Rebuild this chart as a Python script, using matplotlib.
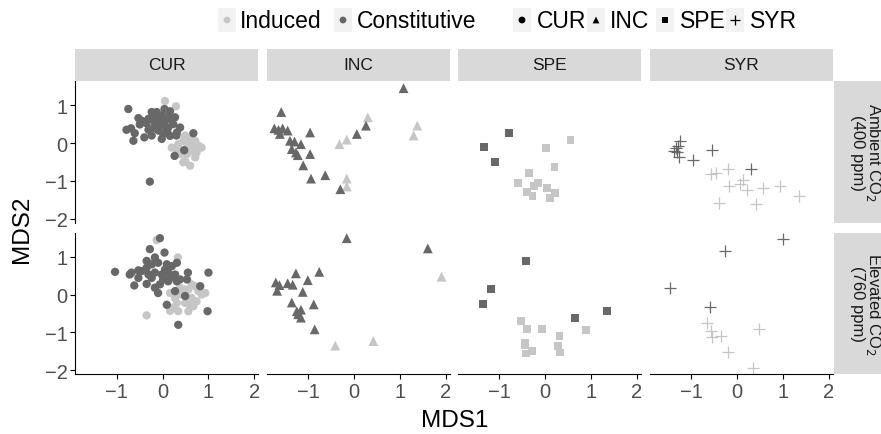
import matplotlib.pyplot as plt
from matplotlib.patches import Rectangle

plt.rcParams['font.family'] = ['Liberation Sans', 'DejaVu Sans']

# ---------------- data (MDS scores) ----------------
species = ['CUR', 'INC', 'SPE', 'SYR']
co2_labels = ['Ambient CO$_2$\n(400 ppm)', 'Elevated CO$_2$\n(760 ppm)']
x_ticks = [-1, 0, 1, 2]
y_ticks = [-2, -1, 0, 1]

# CUR, ambient
cur_amb_con_x = [-0.75, -0.53, -0.46, -0.50, -0.79, -0.69, -0.61, -0.64, -0.31, -0.24, -0.02, -0.28,
                 -0.24, -0.13, 0.04, 0.16, -0.17, -0.06, 0.05, 0.12, 0.23, 0.31, 0.38, -0.09, 0.01,
                 0.16, 0.67, 0.47, 0.26, -0.17, -0.02, 0.12, 0.27, -0.31, -0.35, -0.10, 0.08, 0.20,
                 0.30, -0.20, 0.00, 0.10, -0.40]
cur_amb_con_y = [0.90, 0.66, 0.59, 0.49, 0.35, 0.39, 0.26, 0.06, 0.35, 0.20, 0.11, -1.02,
                 0.82, 0.82, 0.90, 0.84, 0.55, 0.46, 0.59, 0.41, 0.50, 0.28, 0.41, 0.33, 0.24,
                 0.19, 0.26, -0.19, -0.34, 0.68, 0.73, 0.70, 0.68, 0.64, 0.52, 0.62, 0.40, 0.60,
                 0.20, 0.40, 0.50, 0.30, 0.15]
cur_amb_ind_x = [0.05, 0.29, 0.49, 0.60, 0.71, 0.85, 0.20, 0.34, 0.42, 0.53, 0.63, 0.74, 0.49, 0.60,
                 0.45, 0.38, 0.78, 0.56, 0.67, 0.31, 0.45, 0.53, 0.71]
cur_amb_ind_y = [1.11, 0.97, 0.20, 0.11, 0.06, -0.12, -0.12, -0.03, -0.20, -0.29, -0.20, -0.25, -0.47,
                 -0.60, -0.51, -0.29, -0.07, -0.03, -0.07, -0.16, 0.06, -0.12, -0.38]

# CUR, elevated
cur_ele_con_x = [-0.06, -0.28, 0.04, -0.35, -0.17, -1.04, -0.72, -0.68, -0.53, -0.62, -0.46, -0.35,
                 -0.24, -0.10, 0.09, 0.20, -0.31, -0.17, -0.02, 0.12, 0.27, 0.31, -0.35, -0.17,
                 -0.06, 0.12, 0.31, -0.10, 0.27, 0.55, 0.53, 0.82, 1.00, 0.49, 0.09, 0.98, 0.34,
                 0.16, 0.38, -0.53, -0.24, 0.01, 0.05]
cur_ele_con_y = [1.49, 1.20, 1.11, 0.89, 0.98, 0.60, 0.53, 0.58, 0.64, 0.24, 0.62, 0.71,
                 0.80, 0.84, 0.80, 0.75, 0.53, 0.58, 0.53, 0.58, 0.53, 0.84, 0.28, 0.18,
                 0.27, 0.35, 0.35, 0.04, 0.09, 0.58, 0.40, 0.22, 0.58, -0.04, -0.27, -0.44, -0.80,
                 0.44, 0.40, 0.44, 0.44, 0.40, 0.66]
cur_ele_ind_x = [-0.13, 0.33, -0.35, 0.16, 0.27, 0.42, 0.56, 0.71, 0.63, 0.49, 0.74, 0.85, 0.93,
                 0.67, 0.56, 0.34, 0.16, 0.78, 0.38, 0.60, 0.31, 0.23, 0.63, 0.49]
cur_ele_ind_y = [1.44, 0.98, -0.55, 0.04, -0.09, 0.00, 0.13, 0.22, -0.09, -0.22, -0.18, 0.00, 0.04,
                 -0.31, -0.44, -0.44, -0.43, 0.09, 0.18, -0.27, -0.22, -0.35, 0.27, 0.13]

# INC
inc_amb_con_x = [1.08, -1.59, -1.74, -1.65, -1.56, -1.45, -1.62, -0.96, -1.40, -1.30, -1.16, -1.36,
                 -1.27, -1.23, -0.96, -1.11, -0.94, -0.63, -0.30, 0.06, 0.26]
inc_amb_con_y = [1.45, 0.82, 0.39, 0.35, 0.39, 0.33, 0.24, 0.28, 0.06, 0.04, -0.03, -0.16,
                 -0.25, -0.32, -0.29, -0.59, -0.94, -0.85, -1.22, 0.24, 0.46]
inc_amb_ind_x = [0.30, -0.16, -0.32, -0.16, -0.16, 1.38, 1.30]
inc_amb_ind_y = [0.68, 0.09, -0.03, -0.94, -1.15, 0.46, 0.20]
inc_ele_con_x = [-0.16, 1.61, -0.76, -1.27, -1.01, -1.71, -1.63, -1.68, -1.45, -1.34, -1.12, -1.36,
                 -0.88, -1.25, -1.16, -1.16, -1.22, -0.86]
inc_ele_con_y = [1.49, 1.22, 0.60, 0.56, 0.38, 0.32, 0.25, 0.10, 0.30, 0.26, 0.07, -0.21,
                 -0.26, -0.44, -0.40, -0.61, -0.52, -0.92]
inc_ele_ind_x = [1.91, -0.41, 0.42]
inc_ele_ind_y = [0.47, -1.35, -1.23]

# SPE
spe_amb_con_x = [-0.79, -1.33, -1.09]
spe_amb_con_y = [0.27, -0.11, -0.50]
spe_amb_ind_x = [0.55, 0.01, 0.20, -0.35, -0.59, -0.24, -0.15, -0.39, -0.28, 0.04, 0.22, 0.10]
spe_amb_ind_y = [0.09, -0.13, -0.63, -0.80, -1.06, -1.13, -1.05, -1.29, -1.40, -1.19, -1.33, -1.45]
spe_ele_con_x = [-0.42, -1.19, -1.36, 0.65, 1.35]
spe_ele_con_y = [0.89, 0.14, -0.26, -0.63, -0.43]
spe_ele_ind_x = [-0.53, -0.39, -0.07, 0.31, 0.88, -0.44, 0.27, -0.29, -0.42, 0.33, -0.45]
spe_ele_ind_y = [-0.70, -0.90, -0.92, -1.10, -0.94, -1.28, -1.35, -1.50, -1.56, -1.53, -1.33]

# SYR
syr_amb_con_x = [-1.25, -1.28, -1.37, -1.32, -1.34, -1.27, -0.97, -0.55, 0.31]
syr_amb_con_y = [0.06, -0.09, -0.20, -0.24, -0.12, -0.38, -0.44, -0.18, -0.69]
syr_amb_ind_x = [-0.57, -0.47, -0.20, -0.18, 0.07, 0.12, 0.21, 0.56, 0.94, 1.36, -0.39, 0.42]
syr_amb_ind_y = [-0.82, -0.78, -0.69, -1.13, -1.09, -0.98, -1.24, -1.20, -1.13, -1.40, -1.58, -1.62]
syr_ele_con_x = [1.00, -0.26, -1.46, -0.60]
syr_ele_con_y = [1.47, 1.16, 0.17, -0.33]
syr_ele_ind_x = [-0.66, -0.57, -0.55, -0.35, 0.47, -0.20, 0.34]
syr_ele_ind_y = [-0.74, -0.97, -1.12, -1.10, -0.92, -1.53, -1.94]

# table: (row, species) -> [(induced x, y), (constitutive x, y)]
table = {
    (0, 'CUR'): [(cur_amb_ind_x, cur_amb_ind_y), (cur_amb_con_x, cur_amb_con_y)],
    (1, 'CUR'): [(cur_ele_ind_x, cur_ele_ind_y), (cur_ele_con_x, cur_ele_con_y)],
    (0, 'INC'): [(inc_amb_ind_x, inc_amb_ind_y), (inc_amb_con_x, inc_amb_con_y)],
    (1, 'INC'): [(inc_ele_ind_x, inc_ele_ind_y), (inc_ele_con_x, inc_ele_con_y)],
    (0, 'SPE'): [(spe_amb_ind_x, spe_amb_ind_y), (spe_amb_con_x, spe_amb_con_y)],
    (1, 'SPE'): [(spe_ele_ind_x, spe_ele_ind_y), (spe_ele_con_x, spe_ele_con_y)],
    (0, 'SYR'): [(syr_amb_ind_x, syr_amb_ind_y), (syr_amb_con_x, syr_amb_con_y)],
    (1, 'SYR'): [(syr_ele_ind_x, syr_ele_ind_y), (syr_ele_con_x, syr_ele_con_y)],
}

# ---------------- style ----------------
W, H = 881, 435
light = '#C6C6C6'
dark = '#686868'
strip_bg = '#D9D9D9'
tick_col = '#4D4D4D'
markers = {'CUR': ('o', 36), 'INC': ('^', 50), 'SPE': ('s', 32), 'SYR': ('+', 75)}

col_left = [75.2, 266.6, 457.8, 649.6]
col_w = 183.2
row_top = [82, 233.5]
row_h = 141.5


def box(left, top, width, height):
    return [left / W, 1 - (top + height) / H, width / W, height / H]


fig = plt.figure(figsize=(W / 100, H / 100), dpi=100)

for r in range(2):
    for c, sp in enumerate(species):
        ax = fig.add_axes(box(col_left[c], row_top[r], col_w, row_h))
        mk, sz = markers[sp]
        for k, (xs, ys) in enumerate(table[(r, sp)]):
            colr = light if k == 0 else dark
            if mk == '+':
                ax.scatter(xs, ys, marker=mk, s=sz, color=colr, linewidths=0.9, zorder=2 + k)
            else:
                ax.scatter(xs, ys, marker=mk, s=sz, color=colr, edgecolors='none', zorder=2 + k)
        ax.set_xlim(-1.91, 2.09)
        ax.set_ylim(-2.1, 1.64)
        ax.set_xticks(x_ticks)
        ax.set_yticks(y_ticks)
        for s in ['top', 'right']:
            ax.spines[s].set_visible(False)
        ax.spines['left'].set_visible(c == 0)
        ax.spines['bottom'].set_visible(r == 1)
        ax.tick_params(axis='x', bottom=(r == 1), labelbottom=(r == 1), labelsize=14.5,
                       labelcolor=tick_col, length=3.5, width=0.8, pad=2)
        ax.tick_params(axis='y', left=(c == 0), labelleft=(c == 0), labelsize=14.5,
                       labelcolor=tick_col, length=3.5, width=0.8, pad=2)
        ax.set_xticklabels([str(t).replace('-', '\u2212') for t in x_ticks])
        ax.set_yticklabels([str(t).replace('-', '\u2212') for t in y_ticks])
        ax.patch.set_alpha(0)

        # top strips
        if r == 0:
            sax = fig.add_axes(box(col_left[c], 50, col_w, 32))
            sax.add_patch(Rectangle((0, 0), 1, 1, color=strip_bg, transform=sax.transAxes))
            sax.text(0.5, 0.5, sp, ha='center', va='center', fontsize=12.5, color='#1A1A1A')
            sax.axis('off')

    # right strips (cut at the figure edge, as in the original)
    rax = fig.add_axes(box(834, row_top[r], 65, row_h))
    rax.add_patch(Rectangle((0, 0), 1, 1, color=strip_bg, transform=rax.transAxes))
    rax.text(0.5, 0.5, co2_labels[r], ha='center', va='center', rotation=-90,
             fontsize=12, color='#1A1A1A', linespacing=1.0)
    rax.axis('off')

fig.text(455 / W, 1 - 421 / H, 'MDS1', ha='center', va='center', fontsize=17.5)
fig.text(22 / W, 1 - 229 / H, 'MDS2', ha='center', va='center', rotation=90, fontsize=17.5)

# ---------------- legend ----------------
lax = fig.add_axes([0, 1 - 42 / H, 1, 42 / H])
lax.set_xlim(0, W)
lax.set_ylim(42, 0)
lax.axis('off')
key_bg = '#F2F2F2'
items = [
    (227, 'o', light, 'Induced', 240),
    (343, 'o', dark, 'Constitutive', 357),
    (522, 'o', 'black', 'CUR', 537),
    (596, '^', 'black', 'INC', 610),
    (665, 's', 'black', 'SPE', 680),
    (735, '+', 'black', 'SYR', 750),
]
for kx, mk, colr, lab, tx in items:
    lax.add_patch(Rectangle((kx - 9, 9), 18, 24, color=key_bg, lw=0))
    if mk == '+':
        lax.scatter([kx], [21], marker=mk, s=60, color=colr, linewidths=0.9)
    else:
        lax.scatter([kx], [21], marker=mk, s=24, color=colr, edgecolors='none')
    lax.text(tx, 21, lab, ha='left', va='center', fontsize=16.5, color='black')

fig.savefig('out.png', dpi=100)
